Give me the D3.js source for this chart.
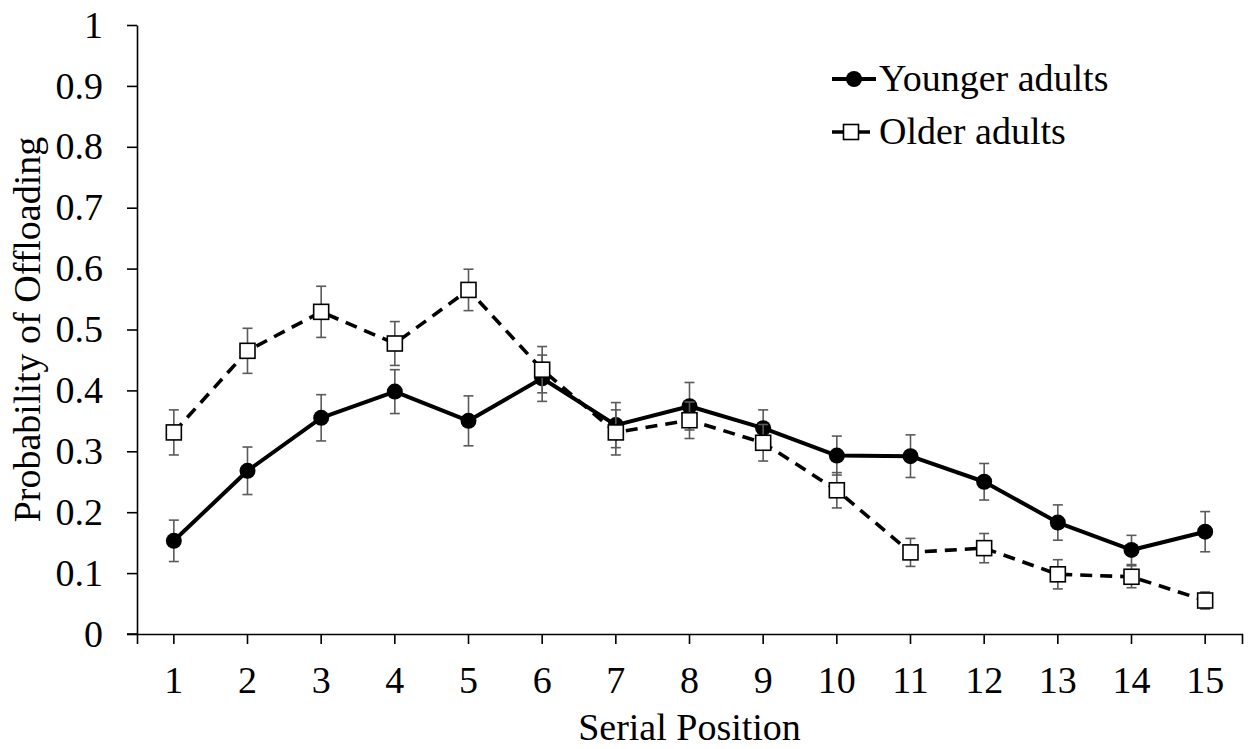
<!DOCTYPE html>
<html>
<head>
<meta charset="utf-8">
<script src="https://cdn.jsdelivr.net/npm/d3@7"></script>
<style>
  html, body { margin: 0; padding: 0; background: #fff; }
</style>
</head>
<body>
<svg id="chart" width="1253" height="749"></svg>
<script>
const positions = [1,2,3,4,5,6,7,8,9,10,11,12,13,14,15];
const seriesNames = ["Younger adults", "Older adults"];
const youngerValues = [0.153, 0.268, 0.355, 0.398, 0.350, 0.420, 0.343, 0.374, 0.338, 0.293, 0.292, 0.250, 0.183, 0.138, 0.168];
const youngerErrors = [0.034, 0.039, 0.038, 0.036, 0.041, 0.038, 0.037, 0.039, 0.030, 0.032, 0.035, 0.030, 0.029, 0.024, 0.033];
const olderValues = [0.331, 0.465, 0.529, 0.477, 0.565, 0.434, 0.331, 0.351, 0.314, 0.236, 0.134, 0.141, 0.098, 0.094, 0.055];
const olderErrors = [0.037, 0.037, 0.042, 0.036, 0.034, 0.038, 0.037, 0.030, 0.030, 0.029, 0.023, 0.024, 0.024, 0.018, 0.014];
const yTicks = [0, 0.1, 0.2, 0.3, 0.4, 0.5, 0.6, 0.7, 0.8, 0.9, 1];
const xTitle = "Serial Position";
const yTitle = "Probability of Offloading";

(function () {
const svg = d3.select("#chart");
const pLeft = 137, pRight = 1242, pTop = 25, pBottom = 634;
const FS = 38;
const FONT = "Liberation Serif";

const x = d3.scaleBand().domain(positions).range([pLeft, pRight]).padding(0);
const xc = d => x(d) + x.bandwidth() / 2;
const y = d3.scaleLinear().domain([0, 1]).range([pBottom, pTop]);

function styleText(sel) {
  sel.attr("font-family", FONT).attr("font-size", FS).attr("fill", "#000")
     .style("font-family", FONT).style("font-size", FS + "px");
}

// Axes
const yAxis = d3.axisLeft(y).tickValues(yTicks).tickFormat(d3.format(".1~f"))
  .tickSize(10).tickSizeOuter(0).tickPadding(24);
const gy = svg.append("g").attr("transform", `translate(${pLeft},0)`).call(yAxis);
gy.attr("font-family", FONT).attr("font-size", FS);
styleText(gy.selectAll("text"));
gy.selectAll("line, path").attr("stroke", "#000").attr("stroke-width", 1.6);

const xAxis = d3.axisBottom(x).tickSize(10).tickSizeOuter(10).tickPadding(22);
const gx = svg.append("g").attr("transform", `translate(0,${pBottom})`).call(xAxis);
gx.attr("font-family", FONT).attr("font-size", FS);
styleText(gx.selectAll("text"));
gx.selectAll("line, path").attr("stroke", "#000").attr("stroke-width", 1.6);
svg.append("line").attr("x1", pLeft - 10).attr("x2", pLeft).attr("y1", pBottom).attr("y2", pBottom)
  .attr("stroke", "#000").attr("stroke-width", 1.6);

// Titles
styleText(svg.append("text").attr("x", (pLeft + pRight) / 2).attr("y", 740)
  .attr("text-anchor", "middle").text(xTitle));
styleText(svg.append("text").attr("transform", `translate(40,${(pTop + pBottom) / 2}) rotate(-90)`)
  .attr("text-anchor", "middle").text(yTitle));

const line = d3.line().x((d, i) => xc(positions[i])).y(d => y(d));

function errorBars(values, errors) {
  const g = svg.append("g").attr("stroke", "#5a5a5a").attr("stroke-width", 1.6);
  values.forEach((v, i) => {
    const cx = xc(positions[i]);
    const y0 = y(v - errors[i]), y1 = y(v + errors[i]);
    g.append("line").attr("x1", cx).attr("x2", cx).attr("y1", y0).attr("y2", y1);
    g.append("line").attr("x1", cx - 5).attr("x2", cx + 5).attr("y1", y0).attr("y2", y0);
    g.append("line").attr("x1", cx - 5).attr("x2", cx + 5).attr("y1", y1).attr("y2", y1);
  });
}

// Younger adults
svg.append("path").datum(youngerValues).attr("d", line)
  .attr("fill", "none").attr("stroke", "#000").attr("stroke-width", 4).attr("stroke-linejoin", "round");
errorBars(youngerValues, youngerErrors);
svg.append("g").selectAll("circle").data(youngerValues).join("circle")
  .attr("cx", (d, i) => xc(positions[i])).attr("cy", d => y(d)).attr("r", 8).attr("fill", "#000");

// Older adults
svg.append("path").datum(olderValues).attr("d", line)
  .attr("fill", "none").attr("stroke", "#000").attr("stroke-width", 3.6)
  .attr("stroke-dasharray", "12,8");
errorBars(olderValues, olderErrors);
svg.append("g").selectAll("rect").data(olderValues).join("rect")
  .attr("x", (d, i) => xc(positions[i]) - 7.5).attr("y", d => y(d) - 7.5)
  .attr("width", 15).attr("height", 15)
  .attr("fill", "#fff").attr("stroke", "#000").attr("stroke-width", 1.6);

// Legend
const lg = svg.append("g");
lg.append("line").attr("x1", 832).attr("x2", 876).attr("y1", 79).attr("y2", 79)
  .attr("stroke", "#000").attr("stroke-width", 4);
lg.append("circle").attr("cx", 854).attr("cy", 79).attr("r", 8).attr("fill", "#000");
styleText(lg.append("text").attr("x", 879).attr("y", 91).text(seriesNames[0]));
lg.append("line").attr("x1", 832).attr("x2", 870).attr("y1", 132).attr("y2", 132)
  .attr("stroke", "#000").attr("stroke-width", 3.6);
lg.append("rect").attr("x", 851 - 7.5).attr("y", 132 - 7.5).attr("width", 15).attr("height", 15)
  .attr("fill", "#fff").attr("stroke", "#000").attr("stroke-width", 1.6);
styleText(lg.append("text").attr("x", 879).attr("y", 144).text(seriesNames[1]));
})();
</script>
</body>
</html>
